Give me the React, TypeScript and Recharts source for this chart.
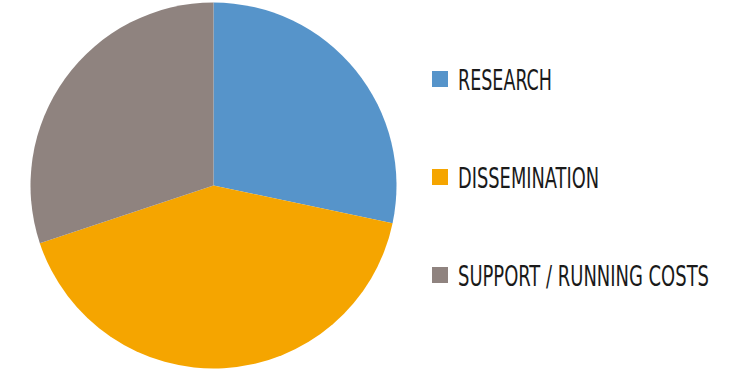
import React from "react"
import { PieChart, Pie, Cell, Legend } from "recharts"

const categories = ["RESEARCH", "DISSEMINATION", "SUPPORT / RUNNING COSTS"]
const shares = [28.3, 41.6, 30.1]
const colors = ["#5694CA", "#F5A500", "#8F837F"]

const chartData = categories.map((name, i) => ({ name, value: shares[i] }))

// rendered widths of the condensed labels in the reference
const labelWidths = [94, 141, 251]

function LegendBox() {
    return (
        <svg width={310} height={379} style={{ display: "block" }}>
            {categories.map((name, i) => {
                const y = 79 + i * 98
                return (
                    <g key={name}>
                        <rect x={12} y={y - 8} width={16} height={16} fill={colors[i]} />
                        <text
                            x={38}
                            y={y + 10.5}
                            fontFamily="'DejaVu Sans Condensed', 'Liberation Sans Narrow', sans-serif"
                            fontSize={28.5}
                            fill="#1a1a1a"
                            textLength={labelWidths[i]}
                            lengthAdjust="spacingAndGlyphs"
                        >
                            {name}
                        </text>
                    </g>
                )
            })}
        </svg>
    )
}

export default function App() {
    return (
        <div style={{ width: 730, height: 379 }}>
            <style>{"body{margin:0}"}</style>
            <PieChart width={730} height={379} margin={{ top: 0, right: 0, bottom: 0, left: 0 }}>
                <Pie
                    data={chartData}
                    dataKey="value"
                    nameKey="name"
                    cx={213.5}
                    cy={185.5}
                    outerRadius={183}
                    startAngle={90}
                    endAngle={-270}
                    stroke="none"
                    isAnimationActive={false}
                >
                    {chartData.map((d, i) => (
                        <Cell key={d.name} fill={colors[i]} />
                    ))}
                </Pie>
                <Legend
                    content={<LegendBox />}
                    wrapperStyle={{ position: "absolute", left: 420, top: 0, width: 310, height: 379 }}
                />
            </PieChart>
        </div>
    )
}
